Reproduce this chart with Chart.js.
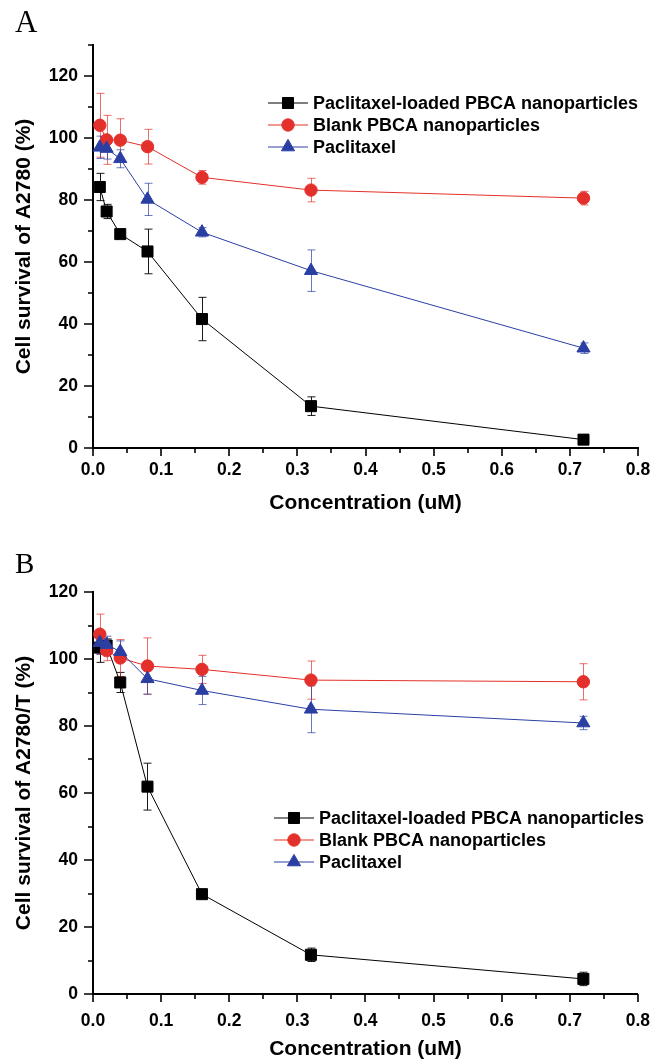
<!DOCTYPE html>
<html>
<head>
<meta charset="utf-8">
<script src="https://cdn.jsdelivr.net/npm/chart.js@4/dist/chart.umd.min.js"></script>
<style>
  body { margin: 0; background: #fff; }
  .panel { position: absolute; left: 0; width: 667px; height: 531px; }
  .letter { position: absolute; font-family: "Liberation Serif", "Times New Roman", serif; color: #000; line-height: 1; }
</style>
</head>
<body>
<div class="panel" style="top:0"><canvas id="chartA" width="667" height="531"></canvas></div>
<div class="panel" style="top:531px"><canvas id="chartB" width="667" height="531"></canvas></div>
<div class="letter" style="left:15px; top:6px; font-size:31px;">A</div>
<div class="letter" style="left:15px; top:549px; font-size:29px;">B</div>
<script>
// concentrations (uM)
const concentrations = [0.01, 0.02, 0.04, 0.08, 0.16, 0.32, 0.72];
const seriesNames = ['Paclitaxel-loaded PBCA nanoparticles', 'Blank PBCA nanoparticles', 'Paclitaxel'];

// panel A: A2780
const loadedA = [84.2, 76.3, 69.0, 63.4, 41.6, 13.5, 2.7];
const loadedAErr = [4.4, 2.3, 1.0, 7.2, 7.0, 3.0, 1.5];
const blankA = [104.1, 99.4, 99.3, 97.2, 87.3, 83.2, 80.6];
const blankAErr = [10.3, 7.9, 6.9, 5.6, 2.2, 3.8, 2.2];
const paclA = [97.0, 96.6, 93.3, 80.2, 69.6, 57.2, 32.2];
const paclAErr = [3.6, 3.4, 2.9, 5.2, 1.5, 6.7, 1.7];

// panel B: A2780/T
const loadedB = [103.4, 104.0, 93.0, 61.9, 29.8, 11.7, 4.5];
const loadedBErr = [4.4, 2.0, 3.0, 7.0, 1.0, 2.0, 2.0];
const blankB = [107.4, 102.5, 100.3, 97.9, 96.9, 93.7, 93.2];
const blankBErr = [6.0, 3.0, 5.5, 8.4, 4.2, 5.7, 5.4];
const paclB = [104.9, 104.3, 102.2, 94.1, 90.6, 85.0, 80.9];
const paclBErr = [3.5, 2.5, 3.2, 4.6, 4.2, 7.0, 2.0];

const xTicks = [0, 0.1, 0.2, 0.3, 0.4, 0.5, 0.6, 0.7, 0.8];
const yTicks = [0, 20, 40, 60, 80, 100, 120];

const FONT = '"Liberation Sans", Arial, Helvetica, sans-serif';
const styles = [
  { color: '#000000', err: 'rgba(0,0,0,0.9)', pointStyle: 'rect', radius: 7.8 },
  { color: '#e3302a', err: 'rgba(227,48,42,0.7)', pointStyle: 'circle', radius: 6.2 },
  { color: '#2b3fa3', err: 'rgba(43,63,163,0.7)', pointStyle: 'triangle', radius: 7.6 }
];

function points(values) {
  return concentrations.map((c, i) => ({ x: c, y: values[i] }));
}

const decorations = {
  id: 'decorations',
  beforeDatasetsDraw(chart, args, opts) {
    const ctx = chart.ctx;
    const y = chart.scales.y;
    ctx.save();
    ctx.lineWidth = 1;
    chart.data.datasets.forEach((ds, i) => {
      const meta = chart.getDatasetMeta(i);
      ctx.strokeStyle = styles[i].err;
      ds.data.forEach((p, j) => {
        const e = opts.errors[i][j];
        const px = Math.round(meta.data[j].x) + 0.5;
        const top = y.getPixelForValue(p.y + e);
        const bot = y.getPixelForValue(p.y - e);
        ctx.beginPath();
        ctx.moveTo(px, top); ctx.lineTo(px, bot);
        ctx.moveTo(px - 4, top); ctx.lineTo(px + 4, top);
        ctx.moveTo(px - 4, bot); ctx.lineTo(px + 4, bot);
        ctx.stroke();
      });
    });
    ctx.restore();
  },
  afterDraw(chart, args, opts) {
    const ctx = chart.ctx;
    const xs = chart.scales.x, ys = chart.scales.y;
    const area = chart.chartArea;
    ctx.save();
    ctx.strokeStyle = '#000';
    ctx.lineWidth = 1.6;
    ctx.beginPath();
    for (let k = 0; k <= 16; k++) {
      const px = Math.round(xs.getPixelForValue(k * 0.05));
      const len = k % 2 === 0 ? 8 : 5;
      ctx.moveTo(px, area.bottom); ctx.lineTo(px, area.bottom + len);
    }
    for (let k = 0; k * 10 <= ys.max; k++) {
      const py = Math.round(ys.getPixelForValue(k * 10));
      const len = k % 2 === 0 ? 9 : 5;
      ctx.moveTo(area.left, py); ctx.lineTo(area.left - len, py);
    }
    ctx.stroke();

    // legend
    const lg = opts.legend;
    ctx.font = 'bold 18px ' + FONT;
    ctx.textBaseline = 'middle';
    ctx.textAlign = 'left';
    chart.data.datasets.forEach((ds, i) => {
      const ly = lg.y + i * lg.gap;
      ctx.strokeStyle = styles[i].color;
      ctx.lineWidth = 1;
      ctx.beginPath();
      ctx.moveTo(lg.x, ly); ctx.lineTo(lg.x + 40, ly);
      ctx.stroke();
      ctx.fillStyle = styles[i].color;
      Chart.helpers.drawPoint(ctx, { pointStyle: styles[i].pointStyle, radius: styles[i].radius, rotation: 0, borderWidth: 1 }, lg.x + 20, ly);
      ctx.fillStyle = '#000';
      ctx.fillText(ds.label, lg.x + 45, ly + 1);
    });
    ctx.restore();
  }
};

function makeChart(id, series, errors, cfg) {
  return new Chart(document.getElementById(id), {
    type: 'line',
    data: {
      datasets: series.map((vals, i) => ({
        label: seriesNames[i],
        data: points(vals),
        order: 3 - i, // later series drawn on top
        borderColor: styles[i].color,
        backgroundColor: styles[i].color,
        pointBackgroundColor: styles[i].color,
        pointBorderColor: styles[i].color,
        pointStyle: styles[i].pointStyle,
        pointRadius: styles[i].radius,
        borderWidth: 1,
        tension: 0,
        clip: false
      }))
    },
    options: {
      responsive: false,
      animation: false,
      events: [],
      layout: { padding: { top: cfg.top, right: 29, left: 0, bottom: 0 } },
      plugins: {
        legend: { display: false },
        tooltip: { enabled: false },
        decorations: { errors: errors, legend: cfg.legend }
      },
      scales: {
        x: {
          type: 'linear', min: 0, max: 0.8,
          afterBuildTicks: s => { s.ticks = xTicks.map(v => ({ value: v })); },
          afterFit: s => { s.height = cfg.xHeight; },
          grid: { display: false, drawTicks: false },
          border: { display: true, color: '#000', width: 2 },
          ticks: {
            padding: cfg.xPad, color: '#000',
            font: { family: FONT, size: 17.5, weight: 'bold' },
            callback: v => v.toFixed(1)
          },
          title: {
            display: true, text: 'Concentration (uM)', color: '#000',
            font: { family: FONT, size: 21, weight: 'bold' },
            padding: { top: 0, bottom: cfg.titlePad }
          }
        },
        y: {
          min: 0, max: cfg.yMax,
          afterBuildTicks: s => { s.ticks = yTicks.map(v => ({ value: v })); },
          afterFit: s => { s.width = 93; },
          grid: { display: false, drawTicks: false },
          border: { display: true, color: '#000', width: 2 },
          ticks: {
            padding: 15, color: '#000',
            font: { family: FONT, size: 17.5, weight: 'bold' }
          },
          title: {
            display: true, text: cfg.yTitle, color: '#000',
            font: { family: FONT, size: 21, weight: 'bold' },
            padding: { top: 12, bottom: 0 }
          }
        }
      }
    },
    plugins: [decorations]
  });
}

makeChart('chartA', [loadedA, blankA, paclA], [loadedAErr, blankAErr, paclAErr], {
  top: 45, yMax: 130, xHeight: 83, xPad: 12, titlePad: 15,
  yTitle: 'Cell survival of A2780 (%)',
  legend: { x: 268, y: 103, gap: 22 }
});

makeChart('chartB', [loadedB, blankB, paclB], [loadedBErr, blankBErr, paclBErr], {
  top: 61, yMax: 120, xHeight: 68, xPad: 17, titlePad: 0,
  yTitle: 'Cell survival of A2780/T (%)',
  legend: { x: 274, y: 287, gap: 22 }
});
</script>
</body>
</html>
